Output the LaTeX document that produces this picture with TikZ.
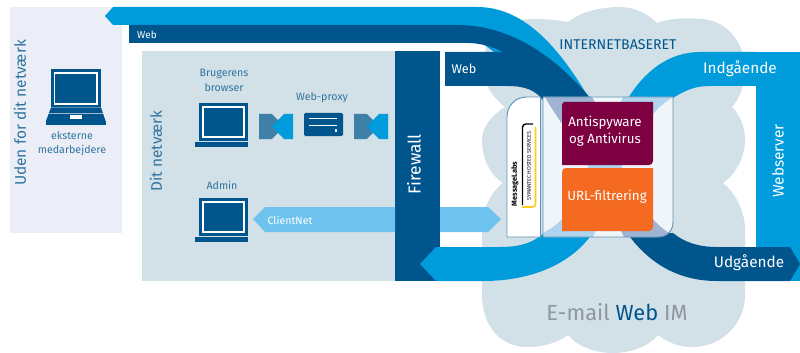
\documentclass[tikz,border=0pt]{standalone}
\usepackage{fontspec}
\setmainfont{Fira Sans}
\definecolor{cDark}{HTML}{00558C}
\definecolor{cLight}{HTML}{009BDB}
\definecolor{cPale}{HTML}{6EC3EE}
\definecolor{cCloud}{HTML}{D2E0E8}
\definecolor{cOut}{HTML}{EBEEF6}
\definecolor{cBox}{HTML}{F0F5F9}
\definecolor{cEdge}{HTML}{5E93B5}
\definecolor{cThruD}{HTML}{A0B4D3}
\definecolor{cThruL}{HTML}{B0D4EE}
\definecolor{cPurple}{HTML}{7D0040}
\definecolor{cOrange}{HTML}{F46A21}
\definecolor{cGrey}{HTML}{8E969E}
\definecolor{cText}{HTML}{2F74A0}
\definecolor{cTie}{HTML}{3F80A8}
\definecolor{cYellow}{HTML}{FFCC1A}
\newcommand{\fsz}[1]{\fontsize{#1}{#1}\selectfont}
\tikzset{
  x=0.75pt,y=-0.75pt,
  lbl/.style={text=cText,inner sep=0pt,font=\fsz{8}},
  wht/.style={text=white,inner sep=0pt},
  side/.style={text=cText,inner sep=0pt,rotate=90,font=\fsz{11.6}},
  sidew/.style={text=white,inner sep=0pt,rotate=90,font=\fsz{12.5}},
  laptopB/.pic={
    \fill[cDark] (0,0) rectangle (49,38);
    \draw[white,line width=0.9pt] (4,4) rectangle (45,34);
    \fill[cDark] (-4,39) rectangle (49,44);
  },
  tie/.pic={
    \fill[cTie] (0,0) -- (13,0) -- (25,12.5) -- (13,25) -- (0,25) -- cycle;
    \fill[cLight] (34,0) -- (25,0) -- (13,12.5) -- (25,25) -- (34,25) -- cycle;
  }
}
\newcommand{\boxpath}{(543,97) -- (673,97) -- (673,222) .. controls (673,231) and (667,237) .. (658,237) -- (543,237) -- cycle}
\begin{document}
\begin{tikzpicture}
\useasboundingbox (0,0) rectangle (800,353);
% panels
\fill[cOut] (10,7) rectangle (122,233);
\fill[cCloud] (142,51) rectangle (395,281);
% cloud
\fill[cCloud] (505,107) .. controls (490,95) and (483,82) .. (483,65)
  .. controls (483,38) and (505,19) .. (533,19)
  .. controls (546,19) and (558,20) .. (568,22)
  .. controls (580,12) and (600,7) .. (620,7)
  .. controls (635,7) and (648,14) .. (657,23)
  .. controls (668,19) and (685,17) .. (700,19)
  .. controls (725,19) and (745,42) .. (745,68)
  .. controls (745,85) and (740,98) .. (732,107)
  .. controls (740,115) and (745,127) .. (745,140)
  .. controls (745,158) and (735,175) .. (723,183)
  .. controls (735,193) and (745,210) .. (745,230)
  -- (745,295)
  .. controls (745,325) and (720,347) .. (693,347)
  .. controls (680,347) and (668,343) .. (658,335)
  .. controls (648,347) and (630,353) .. (613,353)
  .. controls (596,353) and (578,347) .. (568,335)
  .. controls (558,343) and (542,347) .. (527,347)
  .. controls (500,347) and (482,325) .. (482,295)
  -- (482,230)
  .. controls (482,210) and (490,193) .. (503,183)
  .. controls (490,175) and (482,158) .. (482,140)
  .. controls (482,127) and (492,115) .. (505,107) -- cycle;
% webserver and firewall
\fill[cLight] (756,52) rectangle (800,281);
\fill[cDark] (395,51) rectangle (440,281);
% top bands
\fill[cLight] (105,16) -- (113,7) -- (477,7)
  .. controls (520,7) and (555,40) .. (590,100) -- (560,100) -- (457,25) -- (113,25) -- cycle;
\fill[cDark] (129,25) -- (457,25) .. controls (505,25) and (550,50) .. (592,100)
  -- (543,100) .. controls (535,90) and (525,86) .. (507,86)
  -- (445,86) -- (445,52) -- (503,52) .. controls (490,46) and (480,43) .. (467,43)
  -- (129,43) -- cycle;
% other bands
\fill[cLight] (756,52) -- (700,52) .. controls (670,52) and (645,70) .. (627,100)
  -- (670,100) .. controls (685,90) and (695,86) .. (710,86) -- (756,86) -- cycle;
\fill[cLight] (420,264) -- (436,247) -- (500,247) .. controls (520,247) and (532,243) .. (543,234)
  -- (592,234) .. controls (570,265) and (530,281) .. (483,281) -- (436,281) -- cycle;
\fill[cDark] (800,264) -- (790,247) -- (717,247) .. controls (700,247) and (685,243) .. (673,233)
  -- (627,233) .. controls (650,265) and (680,281) .. (717,281) -- (790,281) -- cycle;
% ClientNet
\fill[cPale] (253,219) -- (265,207) -- (395,207) -- (395,232) -- (265,232) -- cycle;
\fill[cPale] (440,207) -- (488,207) -- (501,219) -- (488,232) -- (440,232) -- cycle;
% service box
\fill[cBox] \boxpath;
\begin{scope}
  \clip \boxpath;
  \fill[cThruD] (545,97) -- (592,97) -- (608,125) -- (563,125) .. controls (556,115) and (550,106) .. (545,97) -- cycle;
  \fill[cThruL] (623,97) -- (673,97) .. controls (665,102) and (659,107) .. (653,114) -- (610,125) -- cycle;
  \fill[cThruL] (543,233) .. controls (552,228) and (558,224) .. (563,218) -- (605,208) -- (593,237) -- (543,237) -- cycle;
  \fill[cThruD] (653,219) .. controls (658,225) and (663,229) .. (669,233) -- (673,237) -- (624,237) -- (610,208) -- cycle;
\end{scope}
\fill[cThruL] (588,160) rectangle (622,172);
\draw[cEdge,line width=0.7pt] \boxpath;
% logo panel
\draw[cEdge,line width=0.7pt,fill=white] (540.5,97) -- (527,97) .. controls (515,97) and (507,106) .. (507,117) -- (507,237) -- (540.5,237) -- cycle;
\draw[black,line width=1.1pt,rounded corners=2.5pt] (533,124) -- (522.5,124) -- (522.5,205);
\draw[cYellow,line width=1.3pt,rounded corners=2.5pt] (535.5,127) -- (535.5,207) -- (522,207);
\node[inner sep=0pt,rotate=90,font=\fsz{5.5}\bfseries,text=black] (logoA) at (515,184) {MessageLabs};
\node[inner sep=0pt,rotate=90,font=\fsz{4},text=black] (logoB) at (529,166) {SYMANTEC HOSTED SERVICES};
% service boxes
\fill[cPurple] (564,102) -- (653,102) -- (653,161) .. controls (653,163.5) and (651,165) .. (649,165) -- (562,165) -- (562,104) -- cycle;
\fill[cOrange] (566,168) -- (653,168) -- (653,227) .. controls (653,229.5) and (651,231) .. (649,231) -- (562,231) -- (562,172) .. controls (562,169.5) and (564,168) .. (566,168) -- cycle;
\node[wht,font=\fsz{10}] (anti) at (605,123) {Antispyware};
\node[wht,font=\fsz{10}] (anti2) at (605,140) {og Antivirus};
\node[wht,font=\fsz{10}] (url) at (607,197) {URL-filtrering};
% laptops
\fill[cDark] (51,69) rectangle (101,107);
\draw[white,line width=0.9pt] (54.5,73) rectangle (97,104);
\fill[cDark] (51,107.5) -- (101,107.5) -- (105.5,121) -- (46,121) -- cycle;
\fill[cDark] (46,121.5) rectangle (106,125);
\draw[cThruD,line width=0.6pt] (49,113.5) -- (103,113.5);
\fill[white] (70,115) rectangle (82,119);
\pic at (199,103) {laptopB};
\pic at (199,198) {laptopB};
% proxy
\pic at (259,114) {tie};
\pic at (354,114) {tie};
\fill[cDark,rounded corners=1pt] (304,113) rectangle (343,136);
\draw[white,line width=0.7pt] (309,118.5) -- (337,118.5) (309,125.5) -- (337,125.5);
\fill[white] (335,129.5) rectangle (337,131.5);
% labels
\node[lbl] (bb1) at (224,74) {Brugerens};
\node[lbl] (bb2) at (224,88) {browser};
\node[lbl] (wp) at (322,98) {Web-proxy};
\node[lbl] (em1) at (72,136) {eksterne};
\node[lbl] (em2) at (72,150) {medarbejdere};
\node[lbl] (adm) at (222,185) {Admin};
\node[wht,font=\fsz{8}] (cn) at (290,220) {ClientNet};
\node[wht,font=\fsz{7.5}] (w1) at (147,35) {Web};
\node[wht,font=\fsz{9.5}] (w2) at (464,69) {Web};
\node[wht,font=\fsz{11.5}] (ind) at (740,69) {Indgående};
\node[wht,font=\fsz{11.5}] (udg) at (749,263) {Udgående};
\node[text=cDark,inner sep=0pt,font=\fsz{10.6}] (inet) at (618,45) {INTERNETBASERET};
\node[side] (uden) at (20,113) {Uden for dit netværk};
\node[side,font=\fsz{11.5}] (dit) at (156,151) {Dit netværk};
\node[sidew,font=\fsz{13}] (fw) at (414,164) {Firewall};
\node[sidew,font=\fsz{11.5}] (ws) at (778,161) {Webserver};
\node[inner sep=0pt,font=\fsz{16.4},text=cGrey] (mail) at (617,312) {E-mail \textcolor{cDark}{Web} IM};
\end{tikzpicture}
\end{document}
